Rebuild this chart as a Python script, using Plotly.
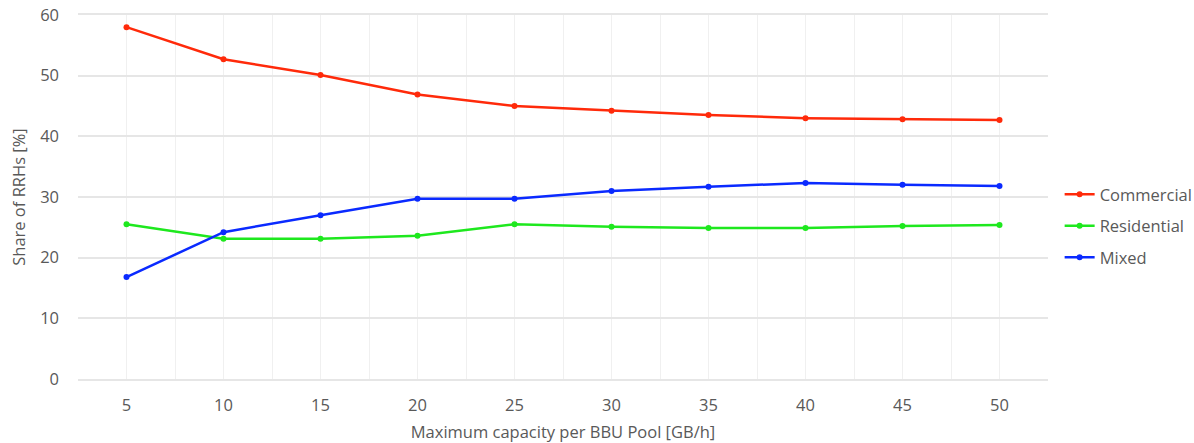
import plotly.graph_objects as go

capacity = [5, 10, 15, 20, 25, 30, 35, 40, 45, 50]
commercial = [58.0, 52.7, 50.1, 46.9, 45.0, 44.2, 43.5, 43.0, 42.8, 42.7]
residential = [25.5, 23.1, 23.1, 23.6, 25.5, 25.1, 24.9, 24.9, 25.2, 25.4]
mixed = [16.8, 24.2, 27.0, 29.7, 29.7, 31.0, 31.7, 32.3, 32.0, 31.8]

series = [
    ("Commercial", commercial, "#ff2a0a"),
    ("Residential", residential, "#1ee81e"),
    ("Mixed", mixed, "#0a2aff"),
]

font_family = "Open Sans, Noto Sans, sans-serif"
text_color = "#595959"
fsize = 16.5

fig = go.Figure()
for name, values, color in series:
    fig.add_trace(go.Scatter(
        x=capacity, y=values, name=name, mode="lines+markers",
        legendgroup=name,
        line=dict(color=color, width=2.5),
        marker=dict(color=color, size=6),
    ))

fig.update_layout(
    width=1194, height=443,
    margin=dict(l=78, r=146, t=15, b=64, autoexpand=False),
    paper_bgcolor="white", plot_bgcolor="white",
    font=dict(family=font_family, color=text_color, size=fsize),
    legend=dict(x=1.012, xanchor="left", y=0.42, yanchor="middle",
                font=dict(size=fsize, color=text_color),
                itemwidth=30, tracegroupgap=7),
    showlegend=True,
)

fig.update_xaxes(
    range=[2.5, 52.5], tickvals=capacity, ticktext=[str(c) for c in capacity],
    showgrid=True, gridcolor="#f0f0f0", gridwidth=1,
    minor=dict(dtick=2.5, tick0=2.5, showgrid=True, gridcolor="#f0f0f0", gridwidth=1),
    showline=True, linecolor="#e6e6e6", linewidth=2, mirror=True,
    zeroline=False, ticks="", ticklabelstandoff=10, automargin=False,
    title=dict(text="Maximum capacity per BBU Pool [GB/h]", font=dict(size=fsize, color=text_color), standoff=12),
    tickfont=dict(size=fsize, color=text_color),
)
fig.update_yaxes(
    range=[0, 60], dtick=10,
    showgrid=True, gridcolor="#e6e6e6", gridwidth=2,
    zeroline=False, ticks="", ticklabelstandoff=18, automargin=False,
    title=dict(text="Share of RRHs [%]", font=dict(size=fsize, color=text_color), standoff=10),
    tickfont=dict(size=fsize, color=text_color),
)

fig.write_html("out.html")
